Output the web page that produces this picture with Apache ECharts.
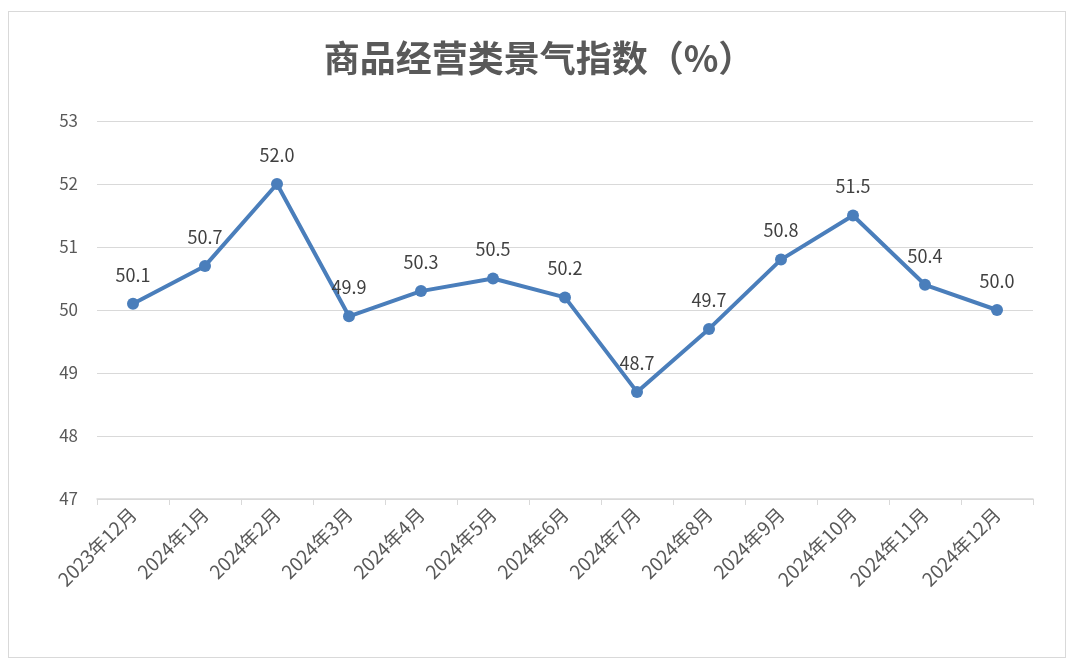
<!DOCTYPE html>
<html lang="zh">
<head>
    <meta charset="UTF-8">
    <title>商品经营类景气指数</title>
    <script src="https://cdn.jsdelivr.net/npm/echarts@6/dist/echarts.min.js"></script>
    <style>
        * {
            margin: 0;
            padding: 0
        }

        html, body {
            width: 100%;
            height: 100%;
            background: #fff;
        }

        #frame {
            position: absolute;
            left: 8px;
            top: 11px;
            width: 1056px;
            height: 645px;
            border: 1px solid #d9d9d9;
        }

        #main {
            position: absolute;
            left: 0;
            top: 0;
            width: 1078px;
            height: 669px;
        }
    </style>
</head>
<body>
<div id="frame"></div>
<div id="main"></div>
<script type="text/javascript">
    // 月份与指数
    var months = ['2023年12月', '2024年1月', '2024年2月', '2024年3月', '2024年4月', '2024年5月', '2024年6月',
        '2024年7月', '2024年8月', '2024年9月', '2024年10月', '2024年11月', '2024年12月'];
    var indexValues = [50.1, 50.7, 52.0, 49.9, 50.3, 50.5, 50.2, 48.7, 49.7, 50.8, 51.5, 50.4, 50.0];
    var yTicks = [47, 48, 49, 50, 51, 52, 53];

    var myChart = echarts.init(document.getElementById('main'));

    var fontFamily = '"Noto Sans CJK SC", "Microsoft YaHei", sans-serif';

    var option = {
        animation: false,
        title: {
            text: '商品经营类景气指数（%）',
            left: 'center',
            top: 35,
            textStyle: {
                fontSize: 36,
                fontWeight: 'bold',
                color: '#595959',
                fontFamily: fontFamily
            }
        },
        grid: {
            left: 97,
            right: 45,
            top: 121,
            bottom: 170
        },
        xAxis: {
            type: 'category',
            data: months,
            boundaryGap: true,
            axisLine: {lineStyle: {color: '#d9d9d9', width: 1.5}},
            axisTick: {show: true, length: 6, lineStyle: {color: '#d9d9d9'}},
            axisLabel: {
                rotate: 45,
                interval: 0,
                fontSize: 19,
                color: '#595959',
                fontFamily: fontFamily,
                margin: 12
            }
        },
        yAxis: {
            type: 'value',
            min: yTicks[0],
            max: yTicks[yTicks.length - 1],
            interval: 1,
            axisLine: {show: false},
            axisTick: {show: false},
            splitLine: {lineStyle: {color: '#d9d9d9', width: 1.2}},
            axisLabel: {
                fontSize: 17,
                color: '#595959',
                fontFamily: fontFamily,
                margin: 19
            }
        },
        series: [{
            name: '商品经营类景气指数',
            type: 'line',
            data: indexValues,
            symbol: 'circle',
            symbolSize: 12,
            lineStyle: {color: '#4a7ebb', width: 4},
            itemStyle: {color: '#4a7ebb'},
            label: {
                show: true,
                position: 'top',
                distance: 14,
                fontSize: 18,
                color: '#404040',
                fontFamily: fontFamily,
                formatter: function (p) {
                    return p.value.toFixed(1);
                }
            }
        }]
    };

    myChart.setOption(option);
</script>
</body>
</html>
